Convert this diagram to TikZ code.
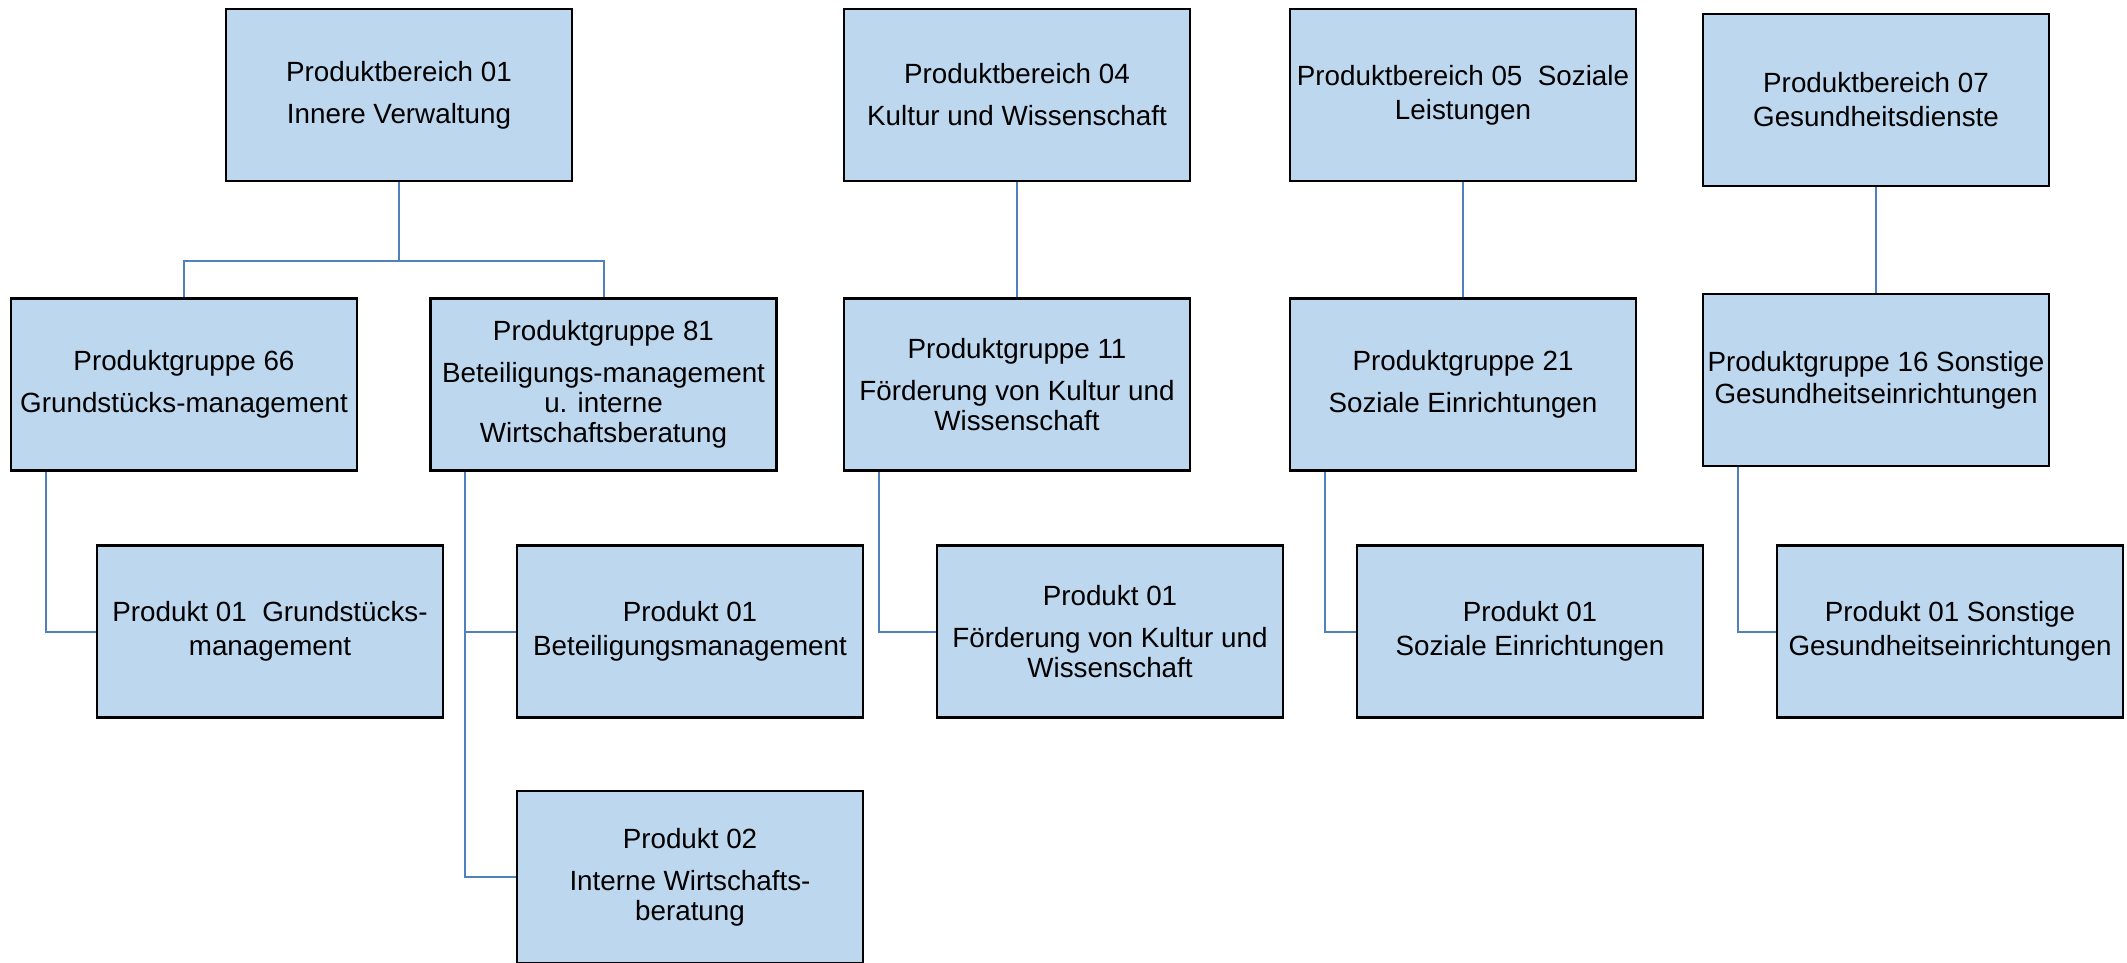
\documentclass[tikz,border=0pt]{standalone}
\usepackage{fontspec}
\setmainfont{Liberation Sans}
\usetikzlibrary{backgrounds}
\definecolor{boxfill}{RGB}{189,215,238}
\definecolor{connblue}{RGB}{79,129,189}
\tikzset{
  orgbox/.style={draw=black, line width=1.25pt, fill=boxfill, rectangle,
    minimum width=173pt, minimum height=86pt, inner sep=0pt, align=center,
    font=\fontsize{13.9pt}{15pt}\selectfont, text=black},
  conn/.style={draw=connblue, line width=1pt}
}
\begin{document}
\begin{tikzpicture}[x=0.5pt,y=-0.5pt]
\useasboundingbox (0,0) rectangle (2127,963);
% top row
\node[orgbox] (pb01) at (399,95) {Produktbereich 01\\[6pt]Innere Verwaltung};
\node[orgbox] (pb04) at (1017,95) {Produktbereich 04\\[6pt]Kultur und Wissenschaft};
\node[orgbox] (pb05) at (1463,95) {Produktbereich 05\ \ Soziale\\[2pt]Leistungen};
\node[orgbox] (pb07) at (1876,100) {Produktbereich 07\\[2pt]Gesundheitsdienste};
% second row
\node[orgbox] (pg66) at (184,384.5) {Produktgruppe 66\\[6pt]Grundstücks-management};
\node[orgbox] (pg81) at (603.5,384.5) {Produktgruppe 81\\[6pt]Beteiligungs-management\\u. interne\\Wirtschaftsberatung};
\node[orgbox] (pg11) at (1017,384.5) {Produktgruppe 11\\[6pt]Förderung von Kultur und\\Wissenschaft};
\node[orgbox] (pg21) at (1463,384.5) {Produktgruppe 21\\[6pt]Soziale Einrichtungen};
\node[orgbox] (pg16) at (1876,380) {Produktgruppe 16 Sonstige\\[1pt]Gesundheitseinrichtungen};
% third row
\node[orgbox] (p01a) at (270,631.5) {Produkt 01\ \ Grundstücks-\\[2pt]management};
\node[orgbox] (p01b) at (690,631.5) {Produkt 01\\[2pt]Beteiligungsmanagement};
\node[orgbox] (p01c) at (1110,631.5) {Produkt 01\\[6pt]Förderung von Kultur und\\Wissenschaft};
\node[orgbox] (p01d) at (1530,631.5) {Produkt 01\\[2pt]Soziale Einrichtungen};
\node[orgbox] (p01e) at (1950,631.5) {Produkt 01 Sonstige\\[2pt]Gesundheitseinrichtungen};
\node[orgbox] (p02) at (690,877) {Produkt 02\\[6pt]Interne Wirtschafts-\\beratung};
% connectors
\begin{scope}[on background layer]
\coordinate (j1) at (399,261);
\draw[conn] (pb01.south) -- (j1);
\draw[conn] (j1) -| (pg66.north);
\draw[conn] (j1) -| (pg81.north);
\draw[conn] (pb04.south) -- (pg11.north);
\draw[conn] (pb05.south) -- (pg21.north);
\draw[conn] (pb07.south) -- (pg16.north);
\draw[conn] ([xshift=18pt]pg66.south west) |- (p01a.west);
\draw[conn] ([xshift=18pt]pg81.south west) |- (p01b.west);
\draw[conn] ([xshift=18pt]pg81.south west) |- (p02.west);
\draw[conn] ([xshift=18pt]pg11.south west) |- (p01c.west);
\draw[conn] ([xshift=18pt]pg21.south west) |- (p01d.west);
\draw[conn] ([xshift=18pt]pg16.south west) |- (p01e.west);
\end{scope}
\end{tikzpicture}
\end{document}
